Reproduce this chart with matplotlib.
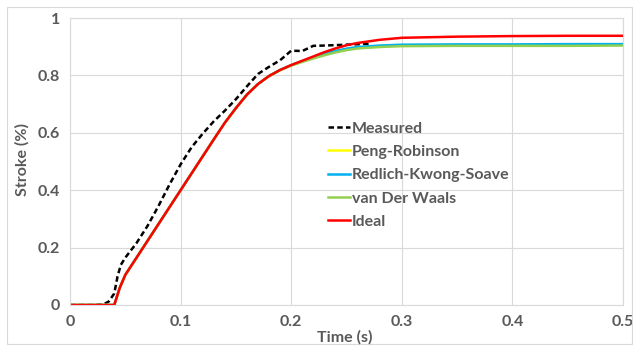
import matplotlib
matplotlib.use("Agg")
import matplotlib.pyplot as plt
from matplotlib.patches import Rectangle

# Data
t_meas = [0.0, 0.02, 0.03, 0.035, 0.04, 0.043, 0.046, 0.05, 0.06, 0.07, 0.08, 0.09, 0.10, 0.11,
          0.12, 0.13, 0.14, 0.15, 0.16, 0.17, 0.18, 0.19, 0.20, 0.21, 0.22, 0.23, 0.25, 0.27]
s_meas = [0.0, 0.0, 0.002, 0.012, 0.04, 0.10, 0.14, 0.165, 0.215, 0.275, 0.345, 0.42, 0.49, 0.55,
          0.597, 0.64, 0.677, 0.717, 0.762, 0.805, 0.83, 0.853, 0.886, 0.885, 0.903, 0.904, 0.907, 0.91]

t_model = [0.0, 0.035, 0.04, 0.045, 0.05, 0.06, 0.07, 0.08, 0.09, 0.10, 0.11, 0.12, 0.13, 0.14,
           0.15, 0.16, 0.17, 0.18, 0.19, 0.20, 0.21, 0.22, 0.23, 0.24, 0.25, 0.26, 0.28, 0.30,
           0.35, 0.40, 0.45, 0.50]
s_ideal = [0.0, 0.0, 0.0, 0.06, 0.105, 0.164, 0.223, 0.282, 0.341, 0.40, 0.459, 0.518, 0.577, 0.635,
           0.686, 0.733, 0.770, 0.798, 0.819, 0.836, 0.851, 0.866, 0.881, 0.894, 0.905, 0.913, 0.924, 0.931,
           0.935, 0.937, 0.938, 0.938]
s_pr = [0.0, 0.0, 0.0, 0.06, 0.105, 0.164, 0.223, 0.282, 0.341, 0.40, 0.459, 0.518, 0.577, 0.635,
        0.686, 0.733, 0.770, 0.798, 0.819, 0.835, 0.849, 0.862, 0.874, 0.884, 0.892, 0.897, 0.902, 0.905,
        0.906, 0.906, 0.906, 0.907]
s_rks = [0.0, 0.0, 0.0, 0.06, 0.105, 0.164, 0.223, 0.282, 0.341, 0.40, 0.459, 0.518, 0.577, 0.635,
         0.686, 0.733, 0.770, 0.798, 0.819, 0.836, 0.850, 0.863, 0.875, 0.885, 0.893, 0.899, 0.904, 0.907,
         0.908, 0.908, 0.909, 0.909]
s_vdw = [0.0, 0.0, 0.0, 0.06, 0.105, 0.164, 0.223, 0.282, 0.341, 0.40, 0.459, 0.518, 0.577, 0.635,
         0.686, 0.733, 0.770, 0.797, 0.818, 0.834, 0.847, 0.859, 0.870, 0.880, 0.888, 0.894, 0.899, 0.902,
         0.903, 0.903, 0.903, 0.904]

labels = ["Measured", "Peng-Robinson", "Redlich-Kwong-Soave", "van Der Waals", "Ideal"]
x_ticks = [0, 0.1, 0.2, 0.3, 0.4, 0.5]
x_tick_labels = ["0", "0.1", "0.2", "0.3", "0.4", "0.5"]
y_ticks = [0, 0.2, 0.4, 0.6, 0.8, 1.0]
y_tick_labels = ["0", "0.2", "0.4", "0.6", "0.8", "1"]

plt.rcParams['font.family'] = ['Lato', 'DejaVu Sans']
txt = '#595959'
fs = 11.5

fig = plt.figure(figsize=(6.38, 3.49), dpi=100)
fig.patches.append(Rectangle((7/638, 5/349), 625/638, 337/349, transform=fig.transFigure,
                             fill=False, edgecolor='#D9D9D9', linewidth=0.8))
ax = fig.add_axes([70/638, 1-305/349, 553/638, 287/349])

ax.plot(t_meas, s_meas, color='black', lw=1.8, ls=(0, (2.2, 1.3)), label=labels[0])
ax.plot(t_model, s_pr, color='#FFFF00', lw=1.8, label=labels[1])
ax.plot(t_model, s_rks, color='#00B0F0', lw=1.8, label=labels[2])
ax.plot(t_model, s_vdw, color='#92D050', lw=1.8, label=labels[3])
ax.plot(t_model, s_ideal, color='#FF0000', lw=1.8, label=labels[4])

ax.set_xlim(0, 0.5)
ax.set_ylim(0, 1)
ax.set_xticks(x_ticks)
ax.set_xticklabels(x_tick_labels)
ax.set_yticks(y_ticks)
ax.set_yticklabels(y_tick_labels)
ax.grid(True, color='#D9D9D9', lw=0.8)
ax.set_axisbelow(True)
for s in ax.spines.values():
    s.set_color('#D9D9D9')
    s.set_linewidth(0.8)
ax.tick_params(length=0, labelsize=fs, labelcolor=txt, pad=7)
for lab in ax.get_xticklabels() + ax.get_yticklabels():
    lab.set_fontweight('bold')

fig.text(345/638, 1-337/349, "Time (s)", ha='center', va='center', fontsize=fs,
         fontweight='bold', color=txt)
fig.text(22/638, 1-160/349, "Stroke (%)", ha='center', va='center', rotation=90,
         fontsize=fs, fontweight='bold', color=txt)

leg = ax.legend(loc='upper left', bbox_to_anchor=((328-70)/553, 1-(121.5-18)/287), frameon=False,
                fontsize=fs, handlelength=1.38, handletextpad=0.12, labelspacing=0.57,
                borderaxespad=0, borderpad=0)
for t in leg.get_texts():
    t.set_color(txt)
    t.set_fontweight('bold')

fig.savefig("out.png", dpi=100)
